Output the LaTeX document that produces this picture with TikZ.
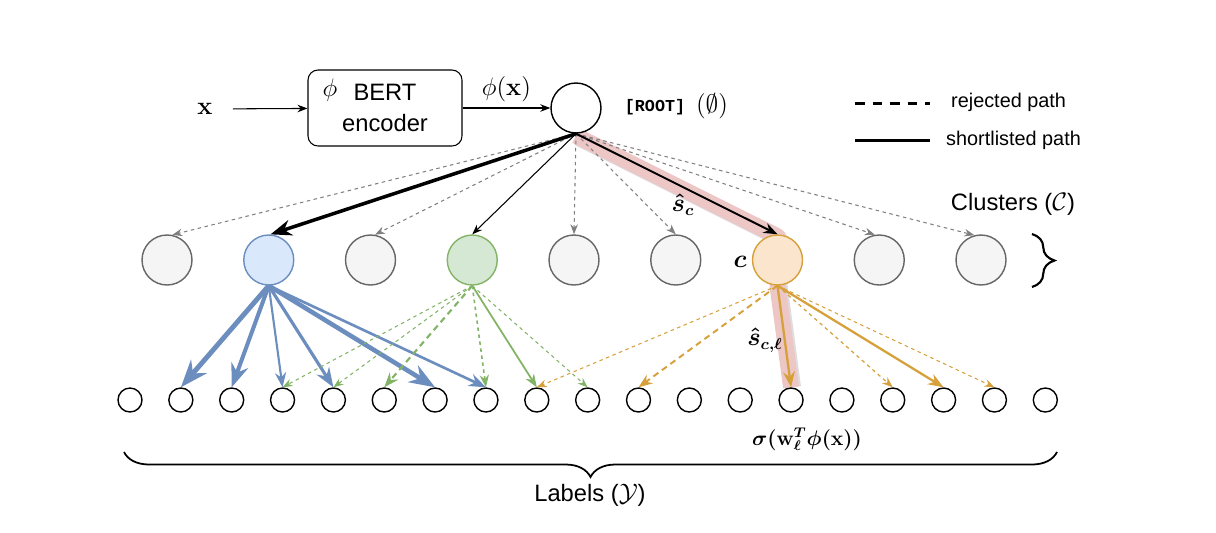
\documentclass[tikz,border=0pt]{standalone}
\usepackage[no-math]{fontspec}
\setmainfont{Liberation Sans}
\newfontfamily\rootfont{Liberation Mono}
\usepackage{bm}
\usetikzlibrary{arrows.meta, backgrounds, decorations.pathreplacing}

\begin{document}
\begin{tikzpicture}[x=0.02cm, y=-0.02cm,
    rootnode/.style={circle, draw, line width=0.8pt, fill=white, minimum size=1.0cm, inner sep=0pt},
    cluster/.style={circle, line width=0.8pt, minimum size=1.0cm, inner sep=0pt},
    clGrey/.style={cluster, draw=clusterDraw, fill=clusterFill},
    clBlue/.style={cluster, draw=blueDraw, fill=blueFill},
    clGreen/.style={cluster, draw=greenDraw, fill=greenFill},
    clOrange/.style={cluster, draw=orangeDraw, fill=orangeFill},
    leaf/.style={circle, draw, line width=0.8pt, fill=white, minimum size=0.48cm, inner sep=0pt},
    thinDash/.style={dash pattern=on 2pt off 2pt},
    midDash/.style={dash pattern=on 3.5pt off 2.5pt},
    rejected/.style={draw=rejGrey, line width=0.6pt, thinDash, -{Stealth}},
    bigText/.style={font=\fontsize{13.5}{15}\selectfont},
    legText/.style={font=\fontsize{11.3}{13}\selectfont, anchor=west},
    mathText/.style={font=\fontsize{13.5}{15}\selectfont}]

    % Define colours
    \definecolor{clusterFill}{HTML}{F5F5F5}
    \definecolor{clusterDraw}{HTML}{666666}
    \definecolor{blueFill}{HTML}{DAE8FC}
    \definecolor{blueDraw}{HTML}{6C8EBF}
    \definecolor{greenFill}{HTML}{D5E8D4}
    \definecolor{greenDraw}{HTML}{82B366}
    \definecolor{orangeFill}{HTML}{FBE5CD}
    \definecolor{orangeDraw}{HTML}{D6A03A}
    \definecolor{rejGrey}{HTML}{808080}
    \definecolor{bandRed}{HTML}{EDC6C6}
    \definecolor{bandGrey}{HTML}{DDDDDD}

    % Define layout
    \def\clusterStep{101.75}
    \def\leafStep{50.85}

    \useasboundingbox (0,0) rectangle (1216,532);

    % Draw input and encoder
    \node[mathText] (x) at (205,109) {$\mathbf{x}$};
    \node[draw, rounded corners=0.2cm, line width=0.6pt, minimum width=3.08cm, minimum height=1.52cm] (enc) at (385,108) {};
    \node[mathText] (phi) at (330,90) {$\phi$};
    \node[bigText] (bert) at (385,92) {BERT};
    \node[bigText] (encoder) at (385,123) {encoder};
    \node[rootnode] (root) at (576,108) {};
    \node[font=\rootfont\bfseries\fontsize{9.5}{11}\selectfont] (rootname) at (655,107) {[ROOT]};
    \node[mathText] (empty) at (712,106) {$(\emptyset)$};

    \draw[line width=0.6pt, -{Stealth}, shorten <=8pt] (x) -- (enc);
    \draw[line width=0.6pt, -{Stealth}] (enc) -- node[mathText, above] {$\phi(\mathbf{x})$} (root);

    % Draw legend
    \coordinate (rejA) at (855,103);
    \coordinate (rejB) at (930,103);
    \coordinate (shortA) at (855,140);
    \coordinate (shortB) at (930,140);
    \draw[line width=1.7pt, dash pattern=on 5.5pt off 4.5pt] (rejA) -- (rejB);
    \draw[line width=1.7pt] (shortA) -- (shortB);
    \node[legText] (rejtext) at (945,102) {rejected path};
    \node[legText] (shorttext) at (940,140) {shortlisted path};

    % Draw clusters
    \foreach \i/\s in {1/clGrey, 2/clBlue, 3/clGrey, 4/clGreen, 5/clGrey, 6/clGrey, 7/clOrange, 8/clGrey, 9/clGrey}
        \node[\s] (c\i) at ({167+\clusterStep*(\i-1)},260) {};
    \node[bigText] (clusters) at (1013,204) {Clusters ($\mathcal{C}$)};
    \draw[line width=1.2pt, decorate, decoration={brace, amplitude=0.45cm}] (1032,234) -- (1032,287);

    % Draw labels
    \foreach \j in {0,...,18}
        \node[leaf] (l\j) at ({130+\leafStep*\j},400) {};
    \draw[line width=1pt, decorate, decoration={brace, amplitude=0.5cm}] (1057,452) -- (124,452);
    \node[bigText] (labels) at (590,495) {Labels ($\mathcal{Y}$)};

    % Highlight the chosen path
    \begin{scope}[on background layer]
        \draw[line width=0.32cm, bandGrey, line join=round] ([shift={(2,4)}]root.south) -- ([shift={(2,4)}]c7.north) -- ([shift={(2,0)}]c7.south) -- ([shift={(2,0)}]l13.north);
        \draw[line width=0.32cm, bandRed, line join=round] ([shift={(0,2)}]root.south) -- ([shift={(0,2)}]c7.north) -- (c7.south) -- (l13.north);
    \end{scope}

    % Root to clusters
    \foreach \i/\a in {1/78, 3/80, 5/90, 6/90, 8/100, 9/105}
        \draw[rejected] (root.south) -- (c\i.\a);
    \draw[line width=2pt, -{Stealth}] (root.south) -- (c2.86);
    \draw[line width=0.6pt, -{Stealth}] (root.south) -- (c4.north);
    \draw[line width=1.1pt, -{Stealth}] (root.south) -- (c7.north);
    \node[mathText] (sclabel) at (683,205) {$\bm{\hat{s}_c}$};
    \node[mathText] (clabel) at (740,262) {$\bm{c}$};

    % Clusters to labels
    \foreach \j/\w in {1/2.8pt, 2/2.3pt, 3/1.2pt, 4/1.8pt, 6/2.6pt, 7/1.5pt}
        \draw[blueDraw, line width=\w, -{Stealth}] (c2.south) -- (l\j.north);
    \foreach \j/\w/\s in {3/0.6pt/thinDash, 4/0.6pt/thinDash, 5/1.2pt/midDash, 7/0.9pt/thinDash, 8/1pt/solid, 9/0.6pt/thinDash}
        \draw[greenDraw, line width=\w, \s, -{Stealth}] (c4.south) -- (l\j.north);
    \foreach \j/\w/\s in {8/0.6pt/thinDash, 10/1.1pt/midDash, 13/1.3pt/solid, 15/0.7pt/thinDash, 16/1.3pt/solid, 17/0.6pt/thinDash}
        \draw[orangeDraw, line width=\w, \s, -{Stealth}] (c7.south) -- (l\j.north);
    \node[mathText] (slabel) at (765,340) {$\bm{\hat{s}_{c,\ell}}$};
    \node[font=\fontsize{12}{14}\selectfont, inner sep=0pt] (sigma) at (807,439) {$\bm{\sigma(\mathbf{w}_\ell^T\phi(\mathbf{x}))}$};

\end{tikzpicture}
\end{document}
